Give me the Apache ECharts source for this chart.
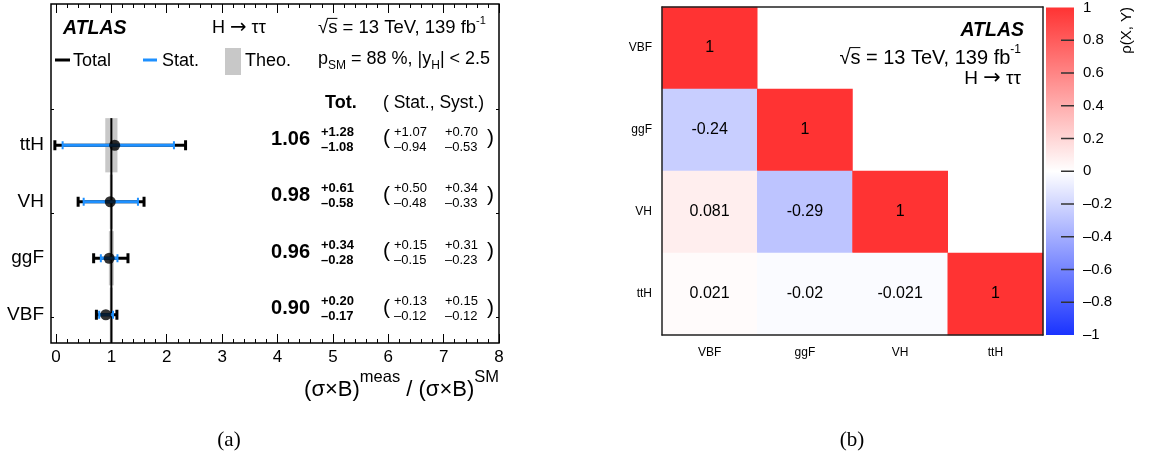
<!DOCTYPE html>
<html><head><meta charset="utf-8">
<script src="https://cdn.jsdelivr.net/npm/echarts@6/dist/echarts.min.js"></script>
<style>html,body{margin:0;padding:0;background:#fff}#c{width:1150px;height:459px}</style>
</head><body><div id="c"></div>
<script>
// ---------- data (a) ----------
const processes = ['VBF', 'ggF', 'VH', 'ttH'];
const central = [0.90, 0.96, 0.98, 1.06];
const totUp  = [0.20, 0.34, 0.61, 1.28];
const totDn  = [0.17, 0.28, 0.58, 1.08];
const statUp = [0.13, 0.15, 0.50, 1.07];
const statDn = [0.12, 0.15, 0.48, 0.94];
const systUp = [0.15, 0.31, 0.34, 0.70];
const systDn = [0.12, 0.23, 0.33, 0.53];
const theoUp = [0.03, 0.045, 0.03, 0.11];
const theoDn = [0.03, 0.045, 0.03, 0.11];
const xTicks = [0, 1, 2, 3, 4, 5, 6, 7, 8];
const yFrameTicks = [0.95, 2.8, 4.63];
// ---------- data (b) ----------
const corrLabels = ['VBF', 'ggF', 'VH', 'ttH'];
const corrRows = [
  [1],
  [-0.24, 1],
  [0.081, -0.29, 1],
  [0.021, -0.02, -0.021, 1]
];
const corrYOrder = ['ttH', 'VH', 'ggF', 'VBF'];
const corrRange = [-1, 1];
const corrColors = ['#1a33ff', '#ffffff', '#ff3333'];
const cbTicks = [-1, -0.8, -0.6, -0.4, -0.2, 0, 0.2, 0.4, 0.6, 0.8, 1];

// ---------- helpers ----------
const FONT = '"Liberation Sans", Arial, sans-serif';
const SERIF = '"Liberation Serif", "Times New Roman", serif';
const ARROWF = '"DejaVu Sans", sans-serif';
const xMinor = [];
for (let k = 0; k < 8; k++) for (let j = 1; j < 5; j++) xMinor.push(k + j * 0.2);
const yPos = processes.map((_, i) => i + 1);
const BAND_H = 0.48;
const BLUE = '#1e90ff';

const mctx = document.createElement('canvas').getContext('2d');
function tw(t, s, w, it, fam) {
  mctx.font = (it || 'normal') + ' ' + (w || 'normal') + ' ' + s + 'px ' + (fam || FONT);
  return mctx.measureText(t).width;
}
function txt(t, x, y, s, opt) {
  opt = opt || {};
  return {type: 'text', x: x, y: y, silent: true, z: 100,
    style: {text: t, fontSize: s, fontWeight: opt.w || 'normal', fontStyle: opt.i || 'normal',
      fontFamily: opt.fam || FONT, fill: opt.fill || '#000',
      align: opt.al || 'left', textAlign: opt.al || 'left',
      verticalAlign: 'middle', textVerticalAlign: 'middle'}};
}
function seq(x, y, parts, right) {
  const widths = parts.map(p => tw(p.t, p.s, p.w, p.i, p.fam));
  const total = widths.reduce((a, b) => a + b, 0);
  let cx = right ? x - total : x;
  const out = [];
  parts.forEach((p, k) => {
    out.push(txt(p.t, cx, y + (p.dy || 0), p.s, {w: p.w, i: p.i, fam: p.fam}));
    if (p.over) {
      out.push({type: 'line', silent: true, z: 100, shape: {x1: cx - 1, y1: y - p.s * 0.52, x2: cx + widths[k], y2: y - p.s * 0.52}, style: {stroke: '#000', lineWidth: 1}});
    }
    cx += widths[k];
  });
  return out;
}
function rootsLine(x, y, s, right) {
  return seq(x, y, [{t: '\u221a', s: s}, {t: 's', s: s, over: true}, {t: ' = 13 TeV, 139 fb', s: s}, {t: '-1', s: Math.round(s * 0.62), dy: -s * 0.4}], right);
}
function hLine(x, y, s, right) {
  return seq(x, y, [{t: 'H ', s: s}, {t: '\u2192', s: s * 1.1, fam: ARROWF}, {t: ' \u03c4\u03c4', s: s}], right);
}

const heatData = [];
corrRows.forEach((row, r) => {
  row.forEach((v, c) => heatData.push([c, corrYOrder.indexOf(corrLabels[r]), v]));
});

// ---------- graphics (texts / legend) ----------
const g = [];
g.push(txt('ATLAS', 63, 29, 19.5, {w: 'bold', i: 'italic'}));
g.push(...hLine(212, 28, 18));
g.push(...rootsLine(318, 28, 18.5));
g.push(...seq(318, 59, [{t: 'p', s: 18}, {t: 'SM', s: 12, dy: 7}, {t: ' = 88 %, |y', s: 18}, {t: 'H', s: 12, dy: 7}, {t: '| < 2.5', s: 18}]));
g.push({type: 'line', silent: true, shape: {x1: 55, y1: 60, x2: 70, y2: 60}, style: {stroke: '#000', lineWidth: 3}});
g.push(txt('Total', 73, 61, 18));
g.push({type: 'line', silent: true, shape: {x1: 143, y1: 60, x2: 157, y2: 60}, style: {stroke: BLUE, lineWidth: 3}});
g.push(txt('Stat.', 162, 61, 18));
g.push({type: 'rect', silent: true, shape: {x: 225, y: 48, width: 16, height: 27}, style: {fill: '#c8c8c8'}});
g.push(txt('Theo.', 245, 61, 18));
g.push(txt('Tot.', 325, 103, 18, {w: 'bold'}));
g.push(txt('( Stat., Syst.)', 383, 103, 17.5));
g.push(...seq(499, 390, [{t: '(\u03c3\u00d7B)', s: 22}, {t: 'meas', s: 16.5, dy: -13}, {t: ' / (\u03c3\u00d7B)', s: 22}, {t: 'SM', s: 16.5, dy: -13}], true));
g.push(txt('(a)', 229, 440, 21, {al: 'center', fam: SERIF}));
g.push(txt('(b)', 852, 440, 21, {al: 'center', fam: SERIF}));
g.push(txt('ATLAS', 1024, 31, 19.5, {w: 'bold', i: 'italic', al: 'right'}));
g.push(...rootsLine(1021, 58, 20, true));
g.push(...hLine(1021, 79, 19, true));
g.push({type: 'text', x: 1127, y: 7, rotation: Math.PI / 2, silent: true,
  style: {text: '\u03c1(X, Y)', fontSize: 15, fontFamily: FONT, fill: '#000', align: 'right', textAlign: 'right', verticalAlign: 'middle', textVerticalAlign: 'middle'}});

const tickBase = {inside: true, lineStyle: {color: '#000', width: 1}};

const option = {
  animation: false,
  backgroundColor: '#fff',
  grid: [
    {left: 51, right: 651, top: 4, bottom: 116, show: true, borderColor: '#000', borderWidth: 1.5, backgroundColor: 'transparent'},
    {left: 662, right: 107, top: 7, bottom: 124, show: false},
    {left: 1046, right: 76, top: 7, bottom: 124, show: false}
  ],
  xAxis: [
    {gridIndex: 0, type: 'value', min: -0.09, max: 8, position: 'bottom',
      axisLine: {show: false, onZero: false}, splitLine: {show: false},
      axisTick: Object.assign({length: 9, customValues: xTicks}, tickBase),
      axisLabel: {customValues: xTicks, fontSize: 17, fontFamily: FONT, color: '#000', margin: 6}},
    {gridIndex: 0, type: 'value', min: -0.09, max: 8, position: 'bottom',
      axisLine: {show: false, onZero: false}, splitLine: {show: false}, axisLabel: {show: false},
      axisTick: Object.assign({length: 4, customValues: xMinor}, tickBase)},
    {gridIndex: 0, type: 'value', min: -0.09, max: 8, position: 'top',
      axisLine: {show: false, onZero: false}, splitLine: {show: false}, axisLabel: {show: false},
      axisTick: Object.assign({length: 9, customValues: xTicks}, tickBase)},
    {gridIndex: 0, type: 'value', min: -0.09, max: 8, position: 'top',
      axisLine: {show: false, onZero: false}, splitLine: {show: false}, axisLabel: {show: false},
      axisTick: Object.assign({length: 4, customValues: xMinor}, tickBase)},
    {gridIndex: 1, type: 'category', data: corrLabels, position: 'bottom', z: 10,
      axisLine: {lineStyle: {color: '#222', width: 1.5}},
      axisTick: {inside: true, length: 9, interval: 0, lineStyle: {color: '#000'}},
      axisLabel: {fontSize: 12, fontFamily: FONT, color: '#000', margin: 12}},
    {gridIndex: 1, type: 'category', data: corrLabels, position: 'top', z: 10,
      axisLine: {lineStyle: {color: '#222', width: 1.5}},
      axisTick: {inside: true, length: 9, interval: 0, lineStyle: {color: '#000'}},
      axisLabel: {show: false}},
    {gridIndex: 2, type: 'value', show: false, min: 0, max: 1}
  ],
  yAxis: [
    {gridIndex: 0, type: 'value', min: 0.5, max: 6.5, position: 'left',
      axisLine: {show: false, onZero: false}, splitLine: {show: false},
      axisTick: {inside: true, length: 3, customValues: yFrameTicks, lineStyle: {color: '#000', width: 1}},
      axisLabel: {customValues: yPos, formatter: v => processes[Math.round(v) - 1], fontSize: 19, fontFamily: FONT, color: '#000', margin: 7}},
    {gridIndex: 1, type: 'category', data: corrYOrder, position: 'left', z: 10,
      axisLine: {lineStyle: {color: '#222', width: 1.5}},
      axisTick: {inside: true, length: 13, interval: 0, lineStyle: {color: '#000'}},
      axisLabel: {fontSize: 12, fontFamily: FONT, color: '#000', margin: 10}},
    {gridIndex: 1, type: 'category', data: corrYOrder, position: 'right', z: 10,
      axisLine: {lineStyle: {color: '#222', width: 1.5}},
      axisTick: {inside: true, length: 13, interval: 0, lineStyle: {color: '#000'}},
      axisLabel: {show: false}},
    {gridIndex: 2, type: 'value', min: -1, max: 1, interval: 0.2, position: 'right',
      axisLine: {show: false, onZero: false}, splitLine: {show: false}, axisTick: {show: false},
      axisLabel: {fontSize: 15, fontFamily: FONT, color: '#000', margin: 9,
        formatter: v => { const r = Math.round(v * 10) / 10; return r < 0 ? '\u2013' + Math.abs(r) : String(r); }}},
    {gridIndex: 0, type: 'value', min: 0.5, max: 6.5, position: 'right',
      axisLine: {show: false, onZero: false}, splitLine: {show: false}, axisLabel: {show: false},
      axisTick: {inside: true, length: 3, customValues: yFrameTicks, lineStyle: {color: '#000', width: 1}}}
  ],
  visualMap: {
    type: 'continuous', show: false, min: corrRange[0], max: corrRange[1], seriesIndex: 6,
    inRange: {color: corrColors}
  },
  graphic: {elements: g},
  series: [
    {type: 'custom', xAxisIndex: 0, yAxisIndex: 0, z: 1, silent: true,
      data: processes.map((p, i) => [1 - theoDn[i], yPos[i], 1 + theoUp[i]]),
      encode: {x: [0, 2], y: 1},
      renderItem: (params, api) => {
        const a = api.coord([api.value(0), api.value(1) + BAND_H]);
        const b = api.coord([api.value(2), api.value(1) - BAND_H]);
        return {type: 'rect', shape: {x: a[0], y: a[1], width: b[0] - a[0], height: b[1] - a[1]}, style: {fill: '#c8c8c8'}};
      }},
    {type: 'line', xAxisIndex: 0, yAxisIndex: 0, z: 2, silent: true, symbol: 'none',
      data: [[1, 0.5], [1, 4 + BAND_H]], lineStyle: {color: '#000', width: 2}},
    {type: 'custom', xAxisIndex: 0, yAxisIndex: 0, z: 3, silent: true,
      data: processes.map((p, i) => [central[i] - totDn[i], yPos[i], central[i] + totUp[i]]),
      encode: {x: [0, 2], y: 1},
      renderItem: (params, api) => {
        const a = api.coord([api.value(0), api.value(1)]);
        const b = api.coord([api.value(2), api.value(1)]);
        const st = {stroke: '#000', lineWidth: 3};
        return {type: 'group', children: [
          {type: 'line', shape: {x1: a[0], y1: a[1], x2: b[0], y2: b[1]}, style: st},
          {type: 'line', shape: {x1: a[0], y1: a[1] - 5, x2: a[0], y2: a[1] + 5}, style: st},
          {type: 'line', shape: {x1: b[0], y1: b[1] - 5, x2: b[0], y2: b[1] + 5}, style: st}
        ]};
      }},
    {type: 'custom', xAxisIndex: 0, yAxisIndex: 0, z: 4, silent: true,
      data: processes.map((p, i) => [central[i] - statDn[i], yPos[i], central[i] + statUp[i]]),
      encode: {x: [0, 2], y: 1},
      renderItem: (params, api) => {
        const a = api.coord([api.value(0), api.value(1)]);
        const b = api.coord([api.value(2), api.value(1)]);
        return {type: 'group', children: [
          {type: 'line', shape: {x1: a[0], y1: a[1], x2: b[0], y2: b[1]}, style: {stroke: BLUE, lineWidth: 3}},
          {type: 'line', shape: {x1: a[0], y1: a[1] - 4, x2: a[0], y2: a[1] + 4}, style: {stroke: BLUE, lineWidth: 2}},
          {type: 'line', shape: {x1: b[0], y1: b[1] - 4, x2: b[0], y2: b[1] + 4}, style: {stroke: BLUE, lineWidth: 2}}
        ]};
      }},
    {type: 'scatter', xAxisIndex: 0, yAxisIndex: 0, z: 5, silent: true, symbol: 'circle', symbolSize: 11,
      itemStyle: {color: '#000'}, data: processes.map((p, i) => [central[i], yPos[i]])},
    {type: 'custom', xAxisIndex: 0, yAxisIndex: 0, z: 6, silent: true, clip: false,
      data: processes.map((p, i) => [central[i], yPos[i]]),
      renderItem: (params, api) => {
        const i = params.dataIndex;
        const yc = api.coord([0, api.value(1)])[1];
        return {type: 'group', children: [
          txt(central[i].toFixed(2), 310, yc - 6, 20, {w: 'bold', al: 'right'}),
          txt('+' + totUp[i].toFixed(2), 321, yc - 13, 13, {w: 'bold'}),
          txt('\u2013' + totDn[i].toFixed(2), 321, yc + 2, 13, {w: 'bold'}),
          txt('(', 383, yc - 7, 21),
          txt('+' + statUp[i].toFixed(2), 394, yc - 13, 13),
          txt('\u2013' + statDn[i].toFixed(2), 394, yc + 2, 13),
          txt('+' + systUp[i].toFixed(2), 445, yc - 13, 13),
          txt('\u2013' + systDn[i].toFixed(2), 445, yc + 2, 13),
          txt(')', 487, yc - 7, 21)
        ]};
      }},
    {type: 'heatmap', xAxisIndex: 4, yAxisIndex: 1, silent: true, data: heatData,
      label: {show: true, fontSize: 16, fontFamily: FONT, color: '#000', formatter: p => String(p.value[2])},
      emphasis: {disabled: true}},
    {type: 'custom', xAxisIndex: 6, yAxisIndex: 3, z: 1, silent: true, clip: false,
      data: [[0, corrRange[0], 1, corrRange[1]]],
      encode: {x: [0, 2], y: [1, 3]},
      renderItem: (params, api) => {
        const a = api.coord([api.value(0), api.value(3)]);
        const b = api.coord([api.value(2), api.value(1)]);
        const kids = [{type: 'rect', shape: {x: a[0], y: a[1], width: b[0] - a[0], height: b[1] - a[1]},
          style: {fill: new echarts.graphic.LinearGradient(0, 0, 0, 1, [
            {offset: 0, color: corrColors[2]}, {offset: 0.5, color: corrColors[1]}, {offset: 1, color: corrColors[0]}])}}];
        cbTicks.forEach(t => {
          if (t === corrRange[0] || t === corrRange[1]) return;
          const p = api.coord([api.value(2), t]);
          kids.push({type: 'line', shape: {x1: p[0] - 13, y1: p[1], x2: p[0], y2: p[1]}, style: {stroke: '#333', lineWidth: 1.5}});
        });
        return {type: 'group', children: kids};
      }}
  ]
};
const chart = echarts.init(document.getElementById('c'), null, {renderer: 'canvas'});
chart.setOption(option);
</script></body></html>
